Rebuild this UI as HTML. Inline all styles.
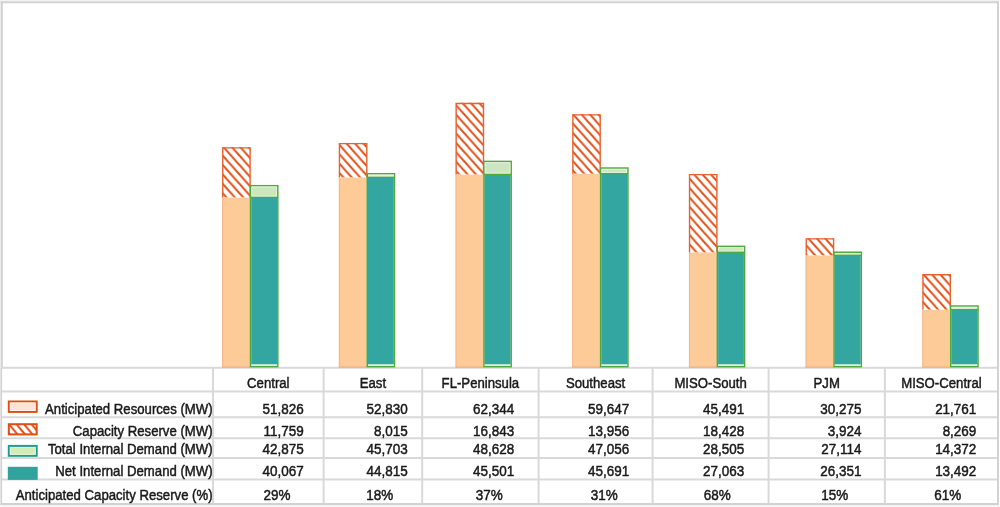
<!DOCTYPE html><html><head><meta charset="utf-8"><style>html,body{margin:0;padding:0;background:#fff;}svg{display:block;filter:blur(0.4px);}text{font-family:"Liberation Sans",sans-serif;fill:#1a1a1a;stroke:#1a1a1a;stroke-width:0.5px;}</style></head><body>
<svg width="1000" height="507" viewBox="0 0 1000 507">
<defs>
<pattern id="h0" patternUnits="userSpaceOnUse" x="222.20" y="-4.70" width="8.4" height="9.4"><path d="M-8.4,-9.4 L16.8,18.8 M-16.8,-9.4 L8.4,18.8 M0,-9.4 L25.200000000000003,18.8" stroke="#E24C12" stroke-width="2.0"/></pattern>
<pattern id="h1" patternUnits="userSpaceOnUse" x="338.90" y="3.30" width="8.4" height="9.4"><path d="M-8.4,-9.4 L16.8,18.8 M-16.8,-9.4 L8.4,18.8 M0,-9.4 L25.200000000000003,18.8" stroke="#E24C12" stroke-width="2.0"/></pattern>
<pattern id="h2" patternUnits="userSpaceOnUse" x="455.60" y="1.30" width="8.4" height="9.4"><path d="M-8.4,-9.4 L16.8,18.8 M-16.8,-9.4 L8.4,18.8 M0,-9.4 L25.200000000000003,18.8" stroke="#E24C12" stroke-width="2.0"/></pattern>
<pattern id="h3" patternUnits="userSpaceOnUse" x="572.30" y="0.70" width="8.4" height="9.4"><path d="M-8.4,-9.4 L16.8,18.8 M-16.8,-9.4 L8.4,18.8 M0,-9.4 L25.200000000000003,18.8" stroke="#E24C12" stroke-width="2.0"/></pattern>
<pattern id="h4" patternUnits="userSpaceOnUse" x="689.00" y="-0.50" width="8.4" height="9.4"><path d="M-8.4,-9.4 L16.8,18.8 M-16.8,-9.4 L8.4,18.8 M0,-9.4 L25.200000000000003,18.8" stroke="#E24C12" stroke-width="2.0"/></pattern>
<pattern id="h5" patternUnits="userSpaceOnUse" x="805.70" y="0.40" width="8.4" height="9.4"><path d="M-8.4,-9.4 L16.8,18.8 M-16.8,-9.4 L8.4,18.8 M0,-9.4 L25.200000000000003,18.8" stroke="#E24C12" stroke-width="2.0"/></pattern>
<pattern id="h6" patternUnits="userSpaceOnUse" x="922.40" y="0.60" width="8.4" height="9.4"><path d="M-8.4,-9.4 L16.8,18.8 M-16.8,-9.4 L8.4,18.8 M0,-9.4 L25.200000000000003,18.8" stroke="#E24C12" stroke-width="2.0"/></pattern>
<pattern id="hl" patternUnits="userSpaceOnUse" x="8" y="423" width="7.5" height="9"><path d="M-7.5,-9 L15,18 M-15,-9 L7.5,18 M0,-9 L22.5,18" stroke="#E24C12" stroke-width="2"/></pattern>
</defs>
<rect x="0" y="0" width="1000" height="507" fill="#fff"/>
<line x1="2" y1="367.7" x2="997" y2="367.7" stroke="#D9D9D9" stroke-width="2"/>
<rect x="222.15" y="197.40" width="27.95" height="170.20" fill="#FCCB98"/>
<line x1="222.65" y1="197.40" x2="222.65" y2="367.60" stroke="#F4B48C" stroke-width="1"/>
<line x1="222.15" y1="367.10" x2="250.10" y2="367.10" stroke="#F0A47C" stroke-width="1"/>
<rect x="222.75" y="147.15" width="27.35" height="50.25" fill="#fff"/>
<rect x="222.75" y="147.15" width="27.35" height="50.25" fill="url(#h0)"/>
<path d="M222.75,197.40 V147.85 H250.10 V197.40" fill="none" stroke="#E8602C" stroke-width="1.4"/>
<rect x="250.55" y="185.69" width="27.25" height="181.01" fill="#CDE6C2" stroke="#4EAA3C" stroke-width="1.5"/>
<rect x="251.80" y="186.94" width="24.75" height="9.21" fill="none" stroke="#E6F2DE" stroke-width="1"/>
<rect x="251.30" y="197.40" width="25.75" height="167.00" fill="#34A6A2"/>
<rect x="251.30" y="364.40" width="25.75" height="1.5" fill="#D8EEEA"/>
<line x1="250.55" y1="197.40" x2="277.80" y2="197.40" stroke="#4EAA3C" stroke-width="1.3"/>
<rect x="338.85" y="177.35" width="27.95" height="190.25" fill="#FCCB98"/>
<line x1="339.35" y1="177.35" x2="339.35" y2="367.60" stroke="#F4B48C" stroke-width="1"/>
<line x1="338.85" y1="367.10" x2="366.80" y2="367.10" stroke="#F0A47C" stroke-width="1"/>
<rect x="339.45" y="142.91" width="27.35" height="34.44" fill="#fff"/>
<rect x="339.45" y="142.91" width="27.35" height="34.44" fill="url(#h1)"/>
<path d="M339.45,177.35 V143.61 H366.80 V177.35" fill="none" stroke="#E8602C" stroke-width="1.4"/>
<rect x="367.25" y="173.75" width="27.25" height="192.95" fill="#CDE6C2" stroke="#4EAA3C" stroke-width="1.5"/>
<rect x="368.50" y="175.00" width="24.75" height="1.10" fill="none" stroke="#E6F2DE" stroke-width="1"/>
<rect x="368.00" y="177.35" width="25.75" height="187.05" fill="#34A6A2"/>
<rect x="368.00" y="364.40" width="25.75" height="1.5" fill="#D8EEEA"/>
<line x1="367.25" y1="177.35" x2="394.50" y2="177.35" stroke="#4EAA3C" stroke-width="1.3"/>
<rect x="455.55" y="174.45" width="27.95" height="193.15" fill="#FCCB98"/>
<line x1="456.05" y1="174.45" x2="456.05" y2="367.60" stroke="#F4B48C" stroke-width="1"/>
<line x1="455.55" y1="367.10" x2="483.50" y2="367.10" stroke="#F0A47C" stroke-width="1"/>
<rect x="456.15" y="102.74" width="27.35" height="71.71" fill="#fff"/>
<rect x="456.15" y="102.74" width="27.35" height="71.71" fill="url(#h2)"/>
<path d="M456.15,174.45 V103.44 H483.50 V174.45" fill="none" stroke="#E8602C" stroke-width="1.4"/>
<rect x="483.95" y="161.40" width="27.25" height="205.30" fill="#CDE6C2" stroke="#4EAA3C" stroke-width="1.5"/>
<rect x="485.20" y="162.65" width="24.75" height="10.55" fill="none" stroke="#E6F2DE" stroke-width="1"/>
<rect x="484.70" y="174.45" width="25.75" height="189.95" fill="#34A6A2"/>
<rect x="484.70" y="364.40" width="25.75" height="1.5" fill="#D8EEEA"/>
<line x1="483.95" y1="174.45" x2="511.20" y2="174.45" stroke="#4EAA3C" stroke-width="1.3"/>
<rect x="572.25" y="173.65" width="27.95" height="193.95" fill="#FCCB98"/>
<line x1="572.75" y1="173.65" x2="572.75" y2="367.60" stroke="#F4B48C" stroke-width="1"/>
<line x1="572.25" y1="367.10" x2="600.20" y2="367.10" stroke="#F0A47C" stroke-width="1"/>
<rect x="572.85" y="114.13" width="27.35" height="59.52" fill="#fff"/>
<rect x="572.85" y="114.13" width="27.35" height="59.52" fill="url(#h3)"/>
<path d="M572.85,173.65 V114.83 H600.20 V173.65" fill="none" stroke="#E8602C" stroke-width="1.4"/>
<rect x="600.65" y="168.04" width="27.25" height="198.66" fill="#CDE6C2" stroke="#4EAA3C" stroke-width="1.5"/>
<rect x="601.90" y="169.29" width="24.75" height="3.11" fill="none" stroke="#E6F2DE" stroke-width="1"/>
<rect x="601.40" y="173.65" width="25.75" height="190.75" fill="#34A6A2"/>
<rect x="601.40" y="364.40" width="25.75" height="1.5" fill="#D8EEEA"/>
<line x1="600.65" y1="173.65" x2="627.90" y2="173.65" stroke="#4EAA3C" stroke-width="1.3"/>
<rect x="688.95" y="252.30" width="27.95" height="115.30" fill="#FCCB98"/>
<line x1="689.45" y1="252.30" x2="689.45" y2="367.60" stroke="#F4B48C" stroke-width="1"/>
<line x1="688.95" y1="367.10" x2="716.90" y2="367.10" stroke="#F0A47C" stroke-width="1"/>
<rect x="689.55" y="173.90" width="27.35" height="78.40" fill="#fff"/>
<rect x="689.55" y="173.90" width="27.35" height="78.40" fill="url(#h4)"/>
<path d="M689.55,252.30 V174.60 H716.90 V252.30" fill="none" stroke="#E8602C" stroke-width="1.4"/>
<rect x="717.35" y="246.36" width="27.25" height="120.34" fill="#CDE6C2" stroke="#4EAA3C" stroke-width="1.5"/>
<rect x="718.60" y="247.61" width="24.75" height="3.44" fill="none" stroke="#E6F2DE" stroke-width="1"/>
<rect x="718.10" y="252.30" width="25.75" height="112.10" fill="#34A6A2"/>
<rect x="718.10" y="364.40" width="25.75" height="1.5" fill="#D8EEEA"/>
<line x1="717.35" y1="252.30" x2="744.60" y2="252.30" stroke="#4EAA3C" stroke-width="1.3"/>
<rect x="805.65" y="255.31" width="27.95" height="112.29" fill="#FCCB98"/>
<line x1="806.15" y1="255.31" x2="806.15" y2="367.60" stroke="#F4B48C" stroke-width="1"/>
<line x1="805.65" y1="367.10" x2="833.60" y2="367.10" stroke="#F0A47C" stroke-width="1"/>
<rect x="806.25" y="238.14" width="27.35" height="17.17" fill="#fff"/>
<rect x="806.25" y="238.14" width="27.35" height="17.17" fill="url(#h5)"/>
<path d="M806.25,255.31 V238.84 H833.60 V255.31" fill="none" stroke="#E8602C" stroke-width="1.4"/>
<rect x="834.05" y="252.23" width="27.25" height="114.47" fill="#CDE6C2" stroke="#4EAA3C" stroke-width="1.5"/>
<rect x="835.30" y="253.48" width="24.75" height="0.57" fill="none" stroke="#E6F2DE" stroke-width="1"/>
<rect x="834.80" y="255.31" width="25.75" height="109.09" fill="#34A6A2"/>
<rect x="834.80" y="364.40" width="25.75" height="1.5" fill="#D8EEEA"/>
<line x1="834.05" y1="255.31" x2="861.30" y2="255.31" stroke="#4EAA3C" stroke-width="1.3"/>
<rect x="922.35" y="309.60" width="27.95" height="58.00" fill="#FCCB98"/>
<line x1="922.85" y1="309.60" x2="922.85" y2="367.60" stroke="#F4B48C" stroke-width="1"/>
<line x1="922.35" y1="367.10" x2="950.30" y2="367.10" stroke="#F0A47C" stroke-width="1"/>
<rect x="922.95" y="274.09" width="27.35" height="35.51" fill="#fff"/>
<rect x="922.95" y="274.09" width="27.35" height="35.51" fill="url(#h6)"/>
<path d="M922.95,309.60 V274.79 H950.30 V309.60" fill="none" stroke="#E8602C" stroke-width="1.4"/>
<rect x="950.75" y="306.03" width="27.25" height="60.67" fill="#CDE6C2" stroke="#4EAA3C" stroke-width="1.5"/>
<rect x="952.00" y="307.28" width="24.75" height="1.07" fill="none" stroke="#E6F2DE" stroke-width="1"/>
<rect x="951.50" y="309.60" width="25.75" height="54.80" fill="#34A6A2"/>
<rect x="951.50" y="364.40" width="25.75" height="1.5" fill="#D8EEEA"/>
<line x1="950.75" y1="309.60" x2="978.00" y2="309.60" stroke="#4EAA3C" stroke-width="1.3"/>
<line x1="2" y1="391.4" x2="997" y2="391.4" stroke="#D9D9D9" stroke-width="2"/>
<line x1="2" y1="417.2" x2="997" y2="417.2" stroke="#D9D9D9" stroke-width="2"/>
<line x1="2" y1="438.2" x2="997" y2="438.2" stroke="#D9D9D9" stroke-width="2"/>
<line x1="2" y1="458.1" x2="997" y2="458.1" stroke="#D9D9D9" stroke-width="2"/>
<line x1="2" y1="479.6" x2="997" y2="479.6" stroke="#D9D9D9" stroke-width="2"/>
<line x1="2" y1="504.2" x2="997" y2="504.2" stroke="#D9D9D9" stroke-width="2"/>
<line x1="213.0" y1="367.7" x2="213.0" y2="504.2" stroke="#D9D9D9" stroke-width="2"/>
<line x1="323.6" y1="367.7" x2="323.6" y2="504.2" stroke="#D9D9D9" stroke-width="2"/>
<line x1="422.2" y1="367.7" x2="422.2" y2="504.2" stroke="#D9D9D9" stroke-width="2"/>
<line x1="538.6" y1="367.7" x2="538.6" y2="504.2" stroke="#D9D9D9" stroke-width="2"/>
<line x1="652.6" y1="367.7" x2="652.6" y2="504.2" stroke="#D9D9D9" stroke-width="2"/>
<line x1="768.6" y1="367.7" x2="768.6" y2="504.2" stroke="#D9D9D9" stroke-width="2"/>
<line x1="884.9" y1="367.7" x2="884.9" y2="504.2" stroke="#D9D9D9" stroke-width="2"/>
<rect x="0" y="0" width="1000" height="1.2" fill="#F2F2F2"/>
<rect x="0" y="0" width="0.8" height="507" fill="#F2F2F2"/>
<rect x="0" y="505.2" width="1000" height="1.8" fill="#F4F4F4"/>
<line x1="0.8" y1="2.2" x2="999" y2="2.2" stroke="#D2D2D2" stroke-width="2"/>
<line x1="1.8" y1="1.2" x2="1.8" y2="367.5" stroke="#D2D2D2" stroke-width="2"/>
<line x1="1.3" y1="367.5" x2="1.3" y2="505" stroke="#D2D2D2" stroke-width="1.6"/>
<line x1="998" y1="1.2" x2="998" y2="505" stroke="#D2D2D2" stroke-width="2"/>
<line x1="0.8" y1="504" x2="999" y2="504" stroke="#D2D2D2" stroke-width="2"/>
<text transform="translate(268.30,388.00) scale(0.85,1)" text-anchor="middle" font-size="15.5">Central</text>
<text transform="translate(303.80,414.10) scale(0.87,1)" text-anchor="end" font-size="15.5">51,826</text>
<text transform="translate(303.80,435.50) scale(0.87,1)" text-anchor="end" font-size="15.5">11,759</text>
<text transform="translate(303.80,454.30) scale(0.87,1)" text-anchor="end" font-size="15.5">42,875</text>
<text transform="translate(303.80,476.20) scale(0.87,1)" text-anchor="end" font-size="15.5">40,067</text>
<text transform="translate(263.55,499.60) scale(0.87,1)" text-anchor="start" font-size="15.5">29%</text>
<text transform="translate(372.90,388.00) scale(0.85,1)" text-anchor="middle" font-size="15.5">East</text>
<text transform="translate(407.70,414.10) scale(0.87,1)" text-anchor="end" font-size="15.5">52,830</text>
<text transform="translate(407.70,435.50) scale(0.87,1)" text-anchor="end" font-size="15.5">8,015</text>
<text transform="translate(407.70,454.30) scale(0.87,1)" text-anchor="end" font-size="15.5">45,703</text>
<text transform="translate(407.70,476.20) scale(0.87,1)" text-anchor="end" font-size="15.5">44,815</text>
<text transform="translate(366.20,499.60) scale(0.87,1)" text-anchor="start" font-size="15.5">18%</text>
<text transform="translate(480.40,388.00) scale(0.85,1)" text-anchor="middle" font-size="15.5">FL-Peninsula</text>
<text transform="translate(514.30,414.10) scale(0.87,1)" text-anchor="end" font-size="15.5">62,344</text>
<text transform="translate(514.30,435.50) scale(0.87,1)" text-anchor="end" font-size="15.5">16,843</text>
<text transform="translate(514.30,454.30) scale(0.87,1)" text-anchor="end" font-size="15.5">48,628</text>
<text transform="translate(514.30,476.20) scale(0.87,1)" text-anchor="end" font-size="15.5">45,501</text>
<text transform="translate(475.70,499.60) scale(0.87,1)" text-anchor="start" font-size="15.5">37%</text>
<text transform="translate(595.60,388.00) scale(0.85,1)" text-anchor="middle" font-size="15.5">Southeast</text>
<text transform="translate(629.20,414.10) scale(0.87,1)" text-anchor="end" font-size="15.5">59,647</text>
<text transform="translate(629.20,435.50) scale(0.87,1)" text-anchor="end" font-size="15.5">13,956</text>
<text transform="translate(629.20,454.30) scale(0.87,1)" text-anchor="end" font-size="15.5">47,056</text>
<text transform="translate(629.20,476.20) scale(0.87,1)" text-anchor="end" font-size="15.5">45,691</text>
<text transform="translate(590.80,499.60) scale(0.87,1)" text-anchor="start" font-size="15.5">31%</text>
<text transform="translate(710.60,388.00) scale(0.85,1)" text-anchor="middle" font-size="15.5">MISO-South</text>
<text transform="translate(744.30,414.10) scale(0.87,1)" text-anchor="end" font-size="15.5">45,491</text>
<text transform="translate(744.30,435.50) scale(0.87,1)" text-anchor="end" font-size="15.5">18,428</text>
<text transform="translate(744.30,454.30) scale(0.87,1)" text-anchor="end" font-size="15.5">28,505</text>
<text transform="translate(744.30,476.20) scale(0.87,1)" text-anchor="end" font-size="15.5">27,063</text>
<text transform="translate(703.80,499.60) scale(0.87,1)" text-anchor="start" font-size="15.5">68%</text>
<text transform="translate(826.75,388.00) scale(0.85,1)" text-anchor="middle" font-size="15.5">PJM</text>
<text transform="translate(861.45,414.10) scale(0.87,1)" text-anchor="end" font-size="15.5">30,275</text>
<text transform="translate(861.45,435.50) scale(0.87,1)" text-anchor="end" font-size="15.5">3,924</text>
<text transform="translate(861.45,454.30) scale(0.87,1)" text-anchor="end" font-size="15.5">27,114</text>
<text transform="translate(861.45,476.20) scale(0.87,1)" text-anchor="end" font-size="15.5">26,351</text>
<text transform="translate(821.35,499.60) scale(0.87,1)" text-anchor="start" font-size="15.5">15%</text>
<text transform="translate(941.45,388.00) scale(0.85,1)" text-anchor="middle" font-size="15.5">MISO-Central</text>
<text transform="translate(976.35,414.10) scale(0.87,1)" text-anchor="end" font-size="15.5">21,761</text>
<text transform="translate(976.35,435.50) scale(0.87,1)" text-anchor="end" font-size="15.5">8,269</text>
<text transform="translate(976.35,454.30) scale(0.87,1)" text-anchor="end" font-size="15.5">14,372</text>
<text transform="translate(976.35,476.20) scale(0.87,1)" text-anchor="end" font-size="15.5">13,492</text>
<text transform="translate(934.25,499.60) scale(0.87,1)" text-anchor="start" font-size="15.5">61%</text>
<text transform="translate(212.60,414.10) scale(0.85,1)" text-anchor="end" font-size="15.5">Anticipated Resources (MW)</text>
<text transform="translate(212.60,435.50) scale(0.85,1)" text-anchor="end" font-size="15.5">Capacity Reserve (MW)</text>
<text transform="translate(212.60,454.30) scale(0.85,1)" text-anchor="end" font-size="15.5">Total Internal Demand (MW)</text>
<text transform="translate(212.60,476.20) scale(0.85,1)" text-anchor="end" font-size="15.5">Net Internal Demand (MW)</text>
<text transform="translate(212.60,499.60) scale(0.85,1)" text-anchor="end" font-size="15.5">Anticipated Capacity Reserve (%)</text>
<rect x="8.8" y="401.5" width="27.9" height="10.4" fill="#FBE4D6" stroke="#E24C12" stroke-width="2"/>
<rect x="10.3" y="403.0" width="24.9" height="7.4" fill="none" stroke="#FFF6F0" stroke-width="0.9"/>
<rect x="8.8" y="424.2" width="27.9" height="10.2" fill="#fff"/>
<rect x="8.8" y="424.2" width="27.9" height="10.2" fill="url(#hl)" stroke="#E24C12" stroke-width="2"/>
<rect x="8.8" y="445.9" width="27.9" height="9.9" fill="#D3EBB9" stroke="#1E9C94" stroke-width="2"/>
<rect x="10.3" y="447.4" width="24.9" height="6.9" fill="none" stroke="#EEF7D8" stroke-width="0.9"/>
<rect x="7.8" y="466.8" width="29.9" height="13.1" fill="#2FA39C"/>
</svg></body></html>
